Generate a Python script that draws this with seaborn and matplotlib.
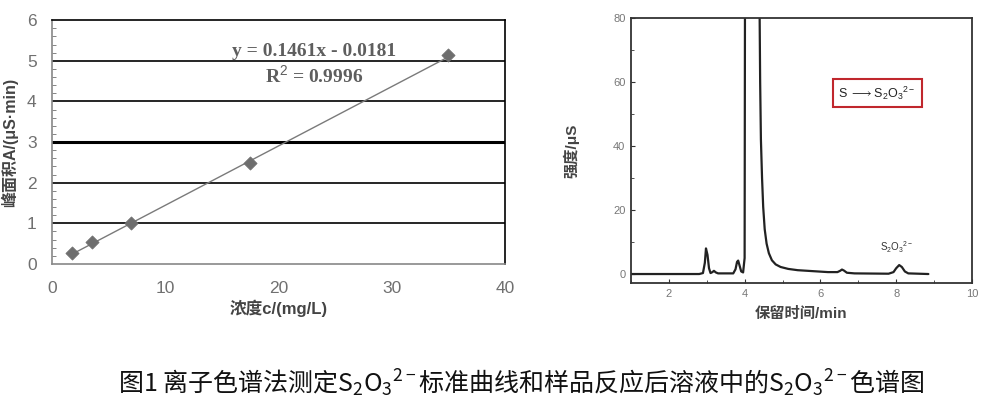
import numpy as np
import pandas as pd
import matplotlib
matplotlib.use("Agg")
import matplotlib.pyplot as plt
from matplotlib.ticker import MultipleLocator
import seaborn as sns

# standard curve data (left panel)
conc = [1.75, 3.5, 7.0, 17.5, 35.0]
area = [0.27, 0.53, 1.02, 2.48, 5.15]
slope = 0.1461
intercept = -0.0181

# chromatogram trace (right panel)
time_min = [1.0, 2.80, 2.90, 2.95, 2.98, 3.02, 3.06, 3.10, 3.15, 3.19, 3.24, 3.30,
            3.70, 3.76, 3.80, 3.83, 3.87, 3.91, 3.96, 4.00, 4.01, 4.20, 4.39,
            4.41, 4.43, 4.46, 4.49, 4.53, 4.58, 4.64, 4.72, 4.82, 4.95, 5.15,
            5.40, 5.80, 6.20, 6.45, 6.52, 6.57, 6.62, 6.70, 6.90, 7.80, 7.93,
            8.00, 8.08, 8.15, 8.23, 8.32, 8.85]
signal_us = [0.0, 0.0, 0.3, 3.5, 8.0, 6.0, 1.8, 0.3, 0.6, 1.0, 0.5, 0.2,
             0.2, 1.5, 3.8, 4.2, 2.5, 0.8, 0.5, 5.0, 90.0, 250.0, 90.0,
             60.0, 42.0, 30.0, 21.0, 14.0, 9.5, 6.5, 4.3, 3.0, 2.2, 1.6,
             1.2, 0.9, 0.6, 0.6, 1.0, 1.4, 1.1, 0.4, 0.2, 0.1, 0.6,
             1.8, 2.8, 2.2, 0.8, 0.2, 0.0]

sns.set_style("white")
plt.rcParams["font.family"] = ["Liberation Sans", "Noto Sans CJK SC", "DejaVu Sans"]
plt.rcParams["mathtext.fontset"] = "custom"
plt.rcParams["mathtext.rm"] = "Liberation Sans"
plt.rcParams["mathtext.it"] = "Liberation Sans:italic"
plt.rcParams["mathtext.bf"] = "Liberation Sans:bold"

fig = plt.figure(figsize=(9.99, 4.03), dpi=100)
gray = "#707070"

# ---- left: calibration curve ----
ax1 = fig.add_axes([0.052, 0.345, 0.4535, 0.605])
df_std = pd.DataFrame({"c": conc, "A": area})
fit_x = [conc[0], conc[-1]]
fit_y = [slope * x + intercept for x in fit_x]
for yv in [1, 2, 4, 5]:
    ax1.axhline(yv, color="black", lw=1.2, zorder=1)
ax1.axhline(3, color="black", lw=2.2, zorder=1)
sns.lineplot(x=fit_x, y=fit_y, ax=ax1, color="#7a7a7a", lw=1.0, zorder=2)
sns.scatterplot(data=df_std, x="c", y="A", ax=ax1, marker="D", s=45,
                color="#6e6e6e", edgecolor="#6e6e6e", zorder=3)
ax1.set_xlim(0, 40)
ax1.set_ylim(0, 6)
ax1.xaxis.set_major_locator(MultipleLocator(10))
ax1.yaxis.set_major_locator(MultipleLocator(1))
ax1.yaxis.set_minor_locator(MultipleLocator(0.2))
ax1.tick_params(axis="both", which="major", labelsize=12.5, colors=gray,
                length=3, direction="out")
ax1.tick_params(axis="x", which="major", pad=9)
ax1.tick_params(axis="y", which="major", pad=11, length=0)
ax1.tick_params(axis="y", which="minor", length=3, direction="in", color=gray, left=True)
for s in ax1.spines.values():
    s.set_color("black")
    s.set_linewidth(1.2)
ax1.spines["left"].set_color("#888888")
ax1.spines["bottom"].set_color("#888888")
ax1.set_xlabel("浓度c/(mg/L)", fontsize=12, color="#444444", fontweight="bold", labelpad=3)
ax1.set_ylabel("峰面积A/(μS·min)", fontsize=11.5, color="#444444", fontweight="bold")
ax1.yaxis.set_label_coords(-0.074, 0.5)
ax1.text(0.578, 0.873, "y = 0.1461x - 0.0181", transform=ax1.transAxes,
         ha="center", va="center", fontsize=14, fontweight="bold",
         color="#5e5e5e", family="Liberation Serif")
ax1.text(0.578, 0.775, "R$^2$ = 0.9996", transform=ax1.transAxes,
         ha="center", va="center", fontsize=14, fontweight="bold",
         color="#5e5e5e", family="Liberation Serif")

# ---- right: chromatogram ----
ax2 = fig.add_axes([0.6316, 0.2978, 0.3413, 0.6576])
df_chrom = pd.DataFrame({"t": time_min, "s": signal_us})
sns.lineplot(data=df_chrom, x="t", y="s", ax=ax2, sort=False,
             color="#222222", lw=1.6)
ax2.set_xlim(1, 10)
ax2.set_ylim(-2.8, 80)
ax2.xaxis.set_major_locator(MultipleLocator(2))
ax2.xaxis.set_minor_locator(MultipleLocator(1))
ax2.yaxis.set_major_locator(MultipleLocator(20))
ax2.yaxis.set_minor_locator(MultipleLocator(10))
ax2.tick_params(axis="both", which="major", labelsize=8, colors="#777777",
                length=3, direction="in", pad=4)
ax2.tick_params(axis="both", which="minor", length=2, direction="in",
                color="#333333", bottom=True, left=True)
ax2.tick_params(axis="both", which="major", color="#333333", bottom=True, left=True)
for s in ax2.spines.values():
    s.set_color("#333333")
    s.set_linewidth(1.3)
ax2.set_xlabel("保留时间/min", fontsize=11, color="#444444", fontweight="bold", labelpad=6)
ax2.set_ylabel("强度/μS", fontsize=11, color="#444444", fontweight="bold", labelpad=24)
ax2.text(8.02, 6.0, "S$_2$O$_3$$^{2-}$", fontsize=7, color="#333333",
         ha="center", va="bottom")
ax2.text(7.5, 56.6, r"S $\longrightarrow$S$_2$O$_3$$^{2-}$", fontsize=9,
         color="#222222", ha="center", va="center",
         bbox=dict(boxstyle="square,pad=0.45", fc="white", ec="#c0272d", lw=1.5))

# ---- caption ----
fig.text(0.5215, 0.048,
         "图1 离子色谱法测定$\\mathregular{S_2O_3{}^{2-}}$标准曲线和样品反应后溶液中的$\\mathregular{S_2O_3{}^{2-}}$色谱图",
         ha="center", va="center", fontsize=18, color="#111111",
         family="Noto Sans CJK SC")

fig.savefig("out.png", dpi=100)
